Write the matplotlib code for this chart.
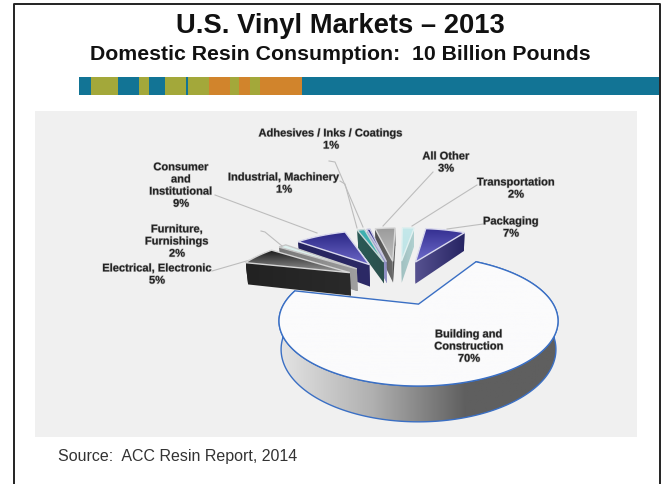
import numpy as np
import matplotlib
matplotlib.use('Agg')
import matplotlib.pyplot as plt
import matplotlib.patheffects as pe
from matplotlib.colors import LinearSegmentedColormap
from matplotlib.patches import Polygon, Rectangle

plt.rcParams['font.family'] = ['Liberation Sans', 'DejaVu Sans']

# pie data, clockwise, starting with the big slice
markets = ['Building and\nConstruction', 'Electrical, Electronic',
           'Furniture,\nFurnishings', 'Consumer\nand\nInstitutional',
           'Industrial, Machinery', 'Adhesives / Inks / Coatings',
           'All Other', 'Transportation', 'Packaging']
# printed percentages
share_labels = [70, 5, 2, 9, 1, 1, 3, 2, 7]
# slice sizes (they differ a bit from the printed ones)
shares = [70, 5.7, 1.3, 8.6, 1.25, 0.55, 3.5, 2.1, 7.0]

# banner stripes
stripe_edges = [79, 91, 118, 139, 149, 165, 186, 188, 209, 230, 239, 250, 260, 302, 659]
stripe_names = ['t', 'o', 't', 'o', 't', 'o', 't', 'o', 'r', 'o', 'r', 'o', 'r', 't']
stripe_colors = {'t': '#127495', 'o': '#A3A83A', 'r': '#D1842C'}

# top gradient, side colours, edge colour for each slice
slice_styles = [
    (('#FBFBFC', '#FBFBFC'), ('#E4E4E4', '#B0B0B0', '#5F5F5F', '#5F5F5F'), '#3A6FC4'),
    (('#1A1A1A', '#9A9A9A'), ('#222222', '#2A2A2A'), '#D5D5D5'),
    (('#DDF0EE', '#DDF0EE'), ('#777777', '#A0A0A0'), '#C8C8C8'),
    (('#2B2785', '#6D68C8'), ('#25235E', '#2C2A66'), '#DADAEE'),
    (('#3FAFAF', '#3FAFAF'), ('#2A5A56', '#2C504C'), '#C8D8D8'),
    (('#2B2785', '#5A56B0'), ('#A8A8D8', '#8C8CC0'), '#C8C8E0'),
    (('#9A9A9A', '#C0C0C0'), ('#4E4E4E', '#6A6A6A'), '#D8D8D8'),
    (('#C4E8EA', '#BDE3E6'), ('#A0C0C0', '#B0D0D0'), '#E0F0F0'),
    (('#332E90', '#6F6CCC'), ('#575290', '#262463'), '#DADAEE'),
]

# label text position, leader line
label_pos = [(469, 347), (157, 275), (177, 242), (181, 186), (284, 184),
             (331, 140), (446, 163), (516, 189), (511, 228)]
leaders = [
    None,
    [(212, 272), (250, 261)],
    [(261, 232), (265, 233), (282, 247)],
    [(215, 196), (317, 234)],
    [(340, 182), (345, 185), (357, 229)],
    [(329, 162), (335, 163), (363, 228)],
    [(433, 173), (383, 227)],
    [(477, 186), (412, 227)],
    [(483, 225), (447, 230)],
]

# perspective of the pie plane
cx, cy, rx, ry = 418.5, 322, 139.5, 65
tilt = 0.26
start_angle = 31.4
explode = 0.453
hub = np.array([-0.174, 0.418])
depth = 26.5


def project(u, v):
    w = 1 + tilt * v
    xs = cx + rx * u * np.sqrt(1 - tilt ** 2) / w
    ys = cy - ry * (v + tilt) / w
    return xs, ys


def project_low(u, v):
    xs, ys = project(u, v)
    return cx + (xs - cx) * 0.985, ys + depth / (1 + tilt * v)


def fill_gradient(ax, xs, ys, colors, vertical, z, edge=None):
    cmap = LinearSegmentedColormap.from_list('g', colors)
    grad = np.linspace(0, 1, 256)
    grad = grad[:, None] if vertical else grad[None, :]
    im = ax.imshow(grad, cmap=cmap, aspect='auto', zorder=z, vmin=0, vmax=1,
                   extent=(xs.min(), xs.max(), ys.max(), ys.min()), origin='upper')
    patch = Polygon(np.column_stack([xs, ys]), closed=True, fc='none',
                    ec=edge if edge else 'none', lw=1.0, zorder=z + 0.1)
    ax.add_patch(patch)
    im.set_clip_path(patch)


fig = plt.figure(figsize=(6.62, 4.85), dpi=100)
ax = fig.add_axes([0, 0, 1, 1])
ax.axis('off')

# slide frame and banner
ax.plot([13.5, 13.5, 660, 660], [485, 4.5, 4.5, 485], color='#222222', lw=1.4, zorder=1)
for i, name in enumerate(stripe_names):
    ax.add_patch(Rectangle((stripe_edges[i], 78), stripe_edges[i + 1] - stripe_edges[i], 18,
                           fc=stripe_colors[name], ec='none', zorder=2))
ax.add_patch(Rectangle((35, 112), 602, 326, fc='#F0F0F0', ec='none', zorder=2))

ax.text(340, 26, 'U.S. Vinyl Markets \u2013 2013', ha='center', va='center',
        fontsize=19.7, fontweight='bold', color='#111111', zorder=50)
ax.text(340, 55, 'Domestic Resin Consumption:  10 Billion Pounds', ha='center', va='center',
        fontsize=15.3, fontweight='bold', color='#111111', zorder=50)
ax.text(58, 457, 'Source:  ACC Resin Report, 2014', ha='left', va='center',
        fontsize=11.5, color='#333333', zorder=50)

# slice angles from the shares
spans = np.array(shares) / sum(shares) * 360
starts = start_angle + np.concatenate([[0], np.cumsum(spans)[:-1]])

slices = []
for i in range(len(shares)):
    mid = np.radians(starts[i] + spans[i] / 2)
    apex = hub + explode * np.array([np.sin(mid), np.cos(mid)])
    t = np.radians(np.linspace(starts[i], starts[i] + spans[i], max(8, int(spans[i]))))
    u = np.concatenate([[apex[0]], apex[0] + np.sin(t)])
    v = np.concatenate([[apex[1]], apex[1] + np.cos(t)])
    slices.append((apex[1], i, u, v))

# big slice goes under the others, then far to near
order = [slices[0]] + sorted(slices[1:], key=lambda s: -s[0])
z = 10
for _, i, u, v in order:
    top_colors, side_colors, edge = slice_styles[i]
    xt, yt = project(u, v)
    xb, yb = project_low(u, v)
    faces = [
        (np.r_[xt[0], xt[1], xb[1], xb[0]], np.r_[yt[0], yt[1], yb[1], yb[0]]),
        (np.r_[xt[0], xt[-1], xb[-1], xb[0]], np.r_[yt[0], yt[-1], yb[-1], yb[0]]),
        (np.r_[xt[1:], xb[1:][::-1]], np.r_[yt[1:], yb[1:][::-1]]),
    ]
    if i == 0:
        faces = faces[2:]
    faces.sort(key=lambda f: f[1].mean())
    for fx, fy in faces:
        fill_gradient(ax, fx, fy, side_colors, False, z, edge if i == 0 else None)
        z += 1
    fill_gradient(ax, xt, yt, top_colors, True, z, edge)
    z += 1

# leader lines and labels
for i, name in enumerate(markets):
    if leaders[i] is not None:
        pts = np.array(leaders[i])
        ax.plot(pts[:, 0], pts[:, 1], color='#BDBDBD', lw=0.8, zorder=40)
    ax.text(label_pos[i][0], label_pos[i][1] + 0.5, '%s\n%d%%' % (name, share_labels[i]),
            ha='center', va='center', fontsize=8, fontweight='bold', color='#222222',
            linespacing=1.27, zorder=50,
            path_effects=[pe.withStroke(linewidth=0.8, foreground='#BBBBBB')])

ax.set_xlim(0, 662)
ax.set_ylim(485, 0)
fig.savefig('out.png', dpi=100, facecolor='white')
